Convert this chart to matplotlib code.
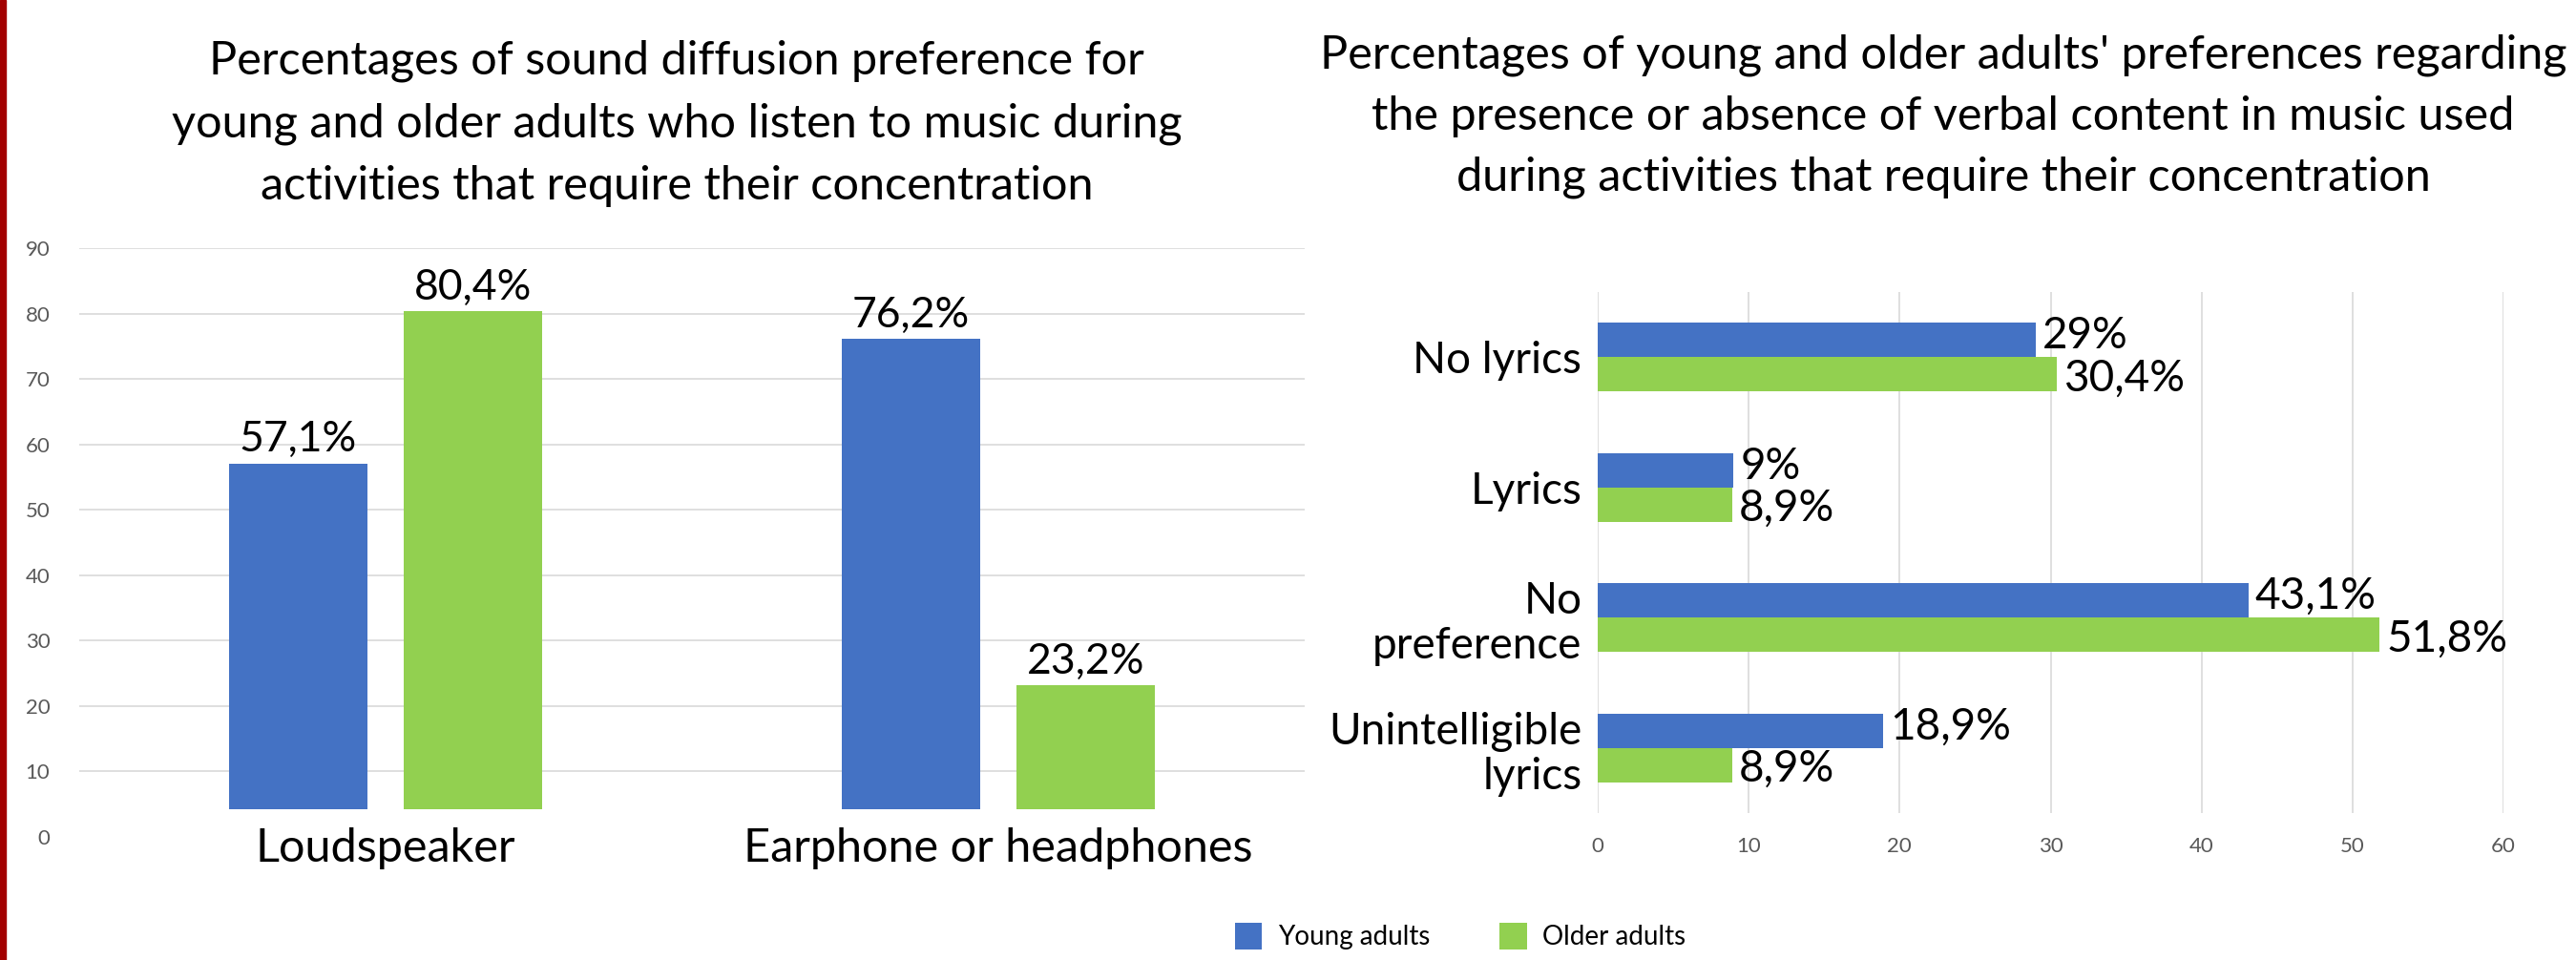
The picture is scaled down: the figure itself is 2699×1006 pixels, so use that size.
import numpy as np
import matplotlib
matplotlib.use("Agg")
import matplotlib.pyplot as plt
from matplotlib.patches import Rectangle

plt.rcParams['font.family'] = ['Lato', 'DejaVu Sans']

# left chart data
devices = ["Loudspeaker", "Earphone or headphones"]
young_device = [57.1, 76.2]
older_device = [80.4, 23.2]

# right chart data
lyric_prefs = ["No lyrics", "Lyrics", "No\npreference", "Unintelligible\nlyrics"]
young_lyrics = [29, 9, 43.1, 18.9]
older_lyrics = [30.4, 8.9, 51.8, 8.9]

series_names = ["Young adults", "Older adults"]

title_left = ["Percentages of sound diffusion preference for",
              "young and older adults who listen to music during",
              "activities that require their concentration"]
title_right = ["Percentages of young and older adults' preferences regarding",
               "the presence or absence of verbal content in music used",
               "during activities that require their concentration"]

BLUE = "#4472C4"
GREEN = "#92D050"
GRID = "#d9d9d9"
TICK = "#595959"


def fmt(v):
    s = ("%.1f" % v).rstrip("0").rstrip(".")
    return s.replace(".", ",") + "%"


W, H = 2699, 1006
fig = plt.figure(figsize=(W / 100, H / 100), dpi=100)

# red edge on the left
fig.add_artist(Rectangle((0, 0), 6 / W, 1, transform=fig.transFigure,
                         color="#a30000", zorder=10))

# ---- left: vertical bars ----
ax1 = fig.add_axes([83 / W, 1 - 877 / H, (1367 - 83) / W, (877 - 260) / H])
x = np.arange(len(devices))
bw = 0.226
off = 0.143
base = 4.2  # bars in the original sit a bit above zero
yv = np.array(young_device)
ov = np.array(older_device)
b1 = ax1.bar(x - off, yv - base, bw, bottom=base, color=BLUE, label=series_names[0], zorder=3)
b2 = ax1.bar(x + off, ov - base, bw, bottom=base, color=GREEN, label=series_names[1], zorder=3)
for xs, vals in [(x - off, yv), (x + off, ov)]:
    for xi, v in zip(xs, vals):
        ax1.annotate(fmt(v), (xi, v), xytext=(0, 3), textcoords="offset points",
                     ha="center", va="bottom", fontsize=32, annotation_clip=False)
ax1.set_xlim(-0.5, 1.5)
ax1.set_ylim(0, 90)
ax1.set_yticks(np.arange(0, 91, 10))
ax1.set_xticks(x)
ax1.set_xticklabels(devices, fontsize=35)
ax1.tick_params(axis="x", length=0, pad=-7)
ax1.tick_params(axis="y", length=0, pad=22, labelsize=16, labelcolor=TICK)
ax1.grid(axis="y", color=GRID, linewidth=1.2, zorder=0)
ax1.get_ygridlines()[0].set_visible(False)
for s in ax1.spines.values():
    s.set_visible(False)

for i, line in enumerate(title_left):
    fig.text(709 / W, 1 - (78 + 65.5 * i) / H, line, ha="center", va="baseline", fontsize=35)

# ---- right: horizontal bars ----
ax2 = fig.add_axes([1674 / W, 1 - 852 / H, (2623 - 1674) / W, (852 - 306) / H])
y = np.arange(len(lyric_prefs))
bh = 0.263
ax2.barh(y - bh / 2, young_lyrics, bh, color=BLUE, zorder=3)
ax2.barh(y + bh / 2, older_lyrics, bh, color=GREEN, zorder=3)
for ys, vals, dy in [(y - bh / 2, young_lyrics, 3), (y + bh / 2, older_lyrics, -3)]:
    for yi, v in zip(ys, vals):
        ax2.annotate(fmt(v), (v, yi), xytext=(5, dy), textcoords="offset points",
                     ha="left", va="center", fontsize=33, annotation_clip=False)
ax2.set_ylim(len(lyric_prefs) - 0.5, -0.5)
ax2.set_xlim(0, 60)
ax2.set_xticks(np.arange(0, 61, 10))
ax2.set_yticks(y)
ax2.set_yticklabels(lyric_prefs, fontsize=33, linespacing=1.15)
ax2.tick_params(axis="y", length=0, pad=12)
ax2.tick_params(axis="x", length=0, pad=18, labelsize=16, labelcolor=TICK)
ax2.grid(axis="x", color=GRID, linewidth=1.2, zorder=0)
for s in ax2.spines.values():
    s.set_visible(False)

for i, line in enumerate(title_right):
    fig.text(2036 / W, 1 - (72 + 64 * i) / H, line, ha="center", va="baseline", fontsize=35)

fig.legend(handles=[b1, b2], labels=series_names, loc="center",
           bbox_to_anchor=(1530 / W, 1 - 981 / H), ncol=2, frameon=False,
           fontsize=20, handlelength=1.04, handleheight=1.18,
           handletextpad=0.6, columnspacing=2.6)

fig.savefig("out.png", dpi=100)
